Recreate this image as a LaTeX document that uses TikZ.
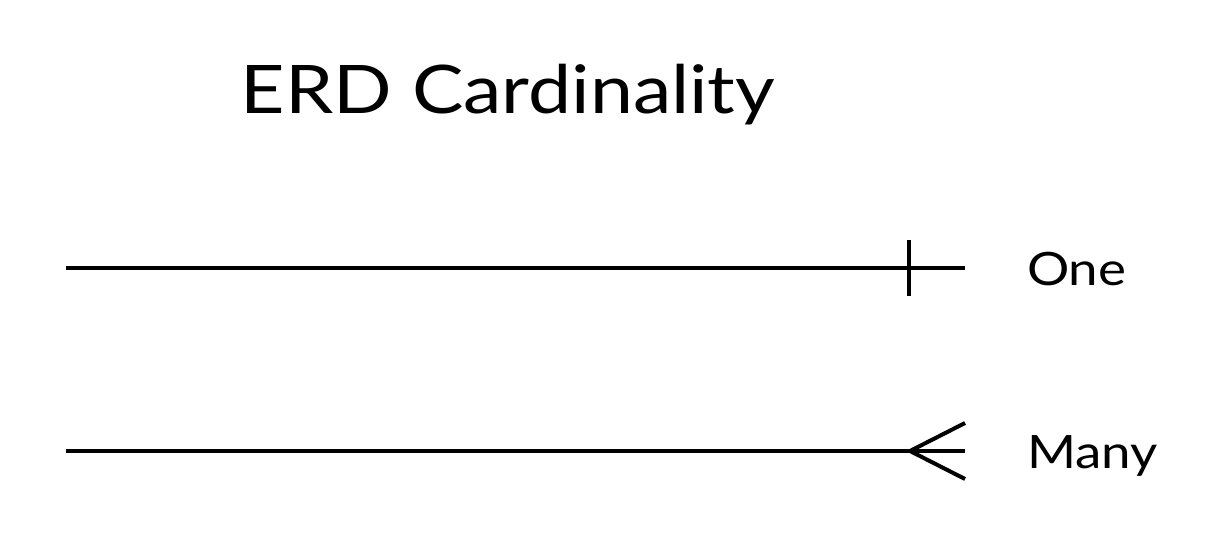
\documentclass[tikz,border=0pt]{standalone}
\usepackage{fontspec}
\setmainfont{Lato}[FakeStretch=1.15]
\usetikzlibrary{positioning}

\begin{document}
\begin{tikzpicture}[x=1pt,y=-1pt,line width=4pt]
\useasboundingbox (0,0) rectangle (1220,545);
\node[font=\fontsize{67}{70}\selectfont,anchor=base] (title) at (508,114) {ERD Cardinality};
% one
\coordinate (oneL) at (66,268);
\coordinate (oneR) at (965,268);
\coordinate (oneT) at (909,240);
\coordinate (oneB) at (909,296);
\draw (oneL)--(oneR);
\draw (oneT)--(oneB);
\node[font=\fontsize{46}{50}\selectfont,anchor=base west,inner sep=0pt] (one) at (1025,285) {One};
% many
\coordinate (manyL) at (66,451);
\coordinate (manyR) at (965,451);
\coordinate (manyA) at (910,451);
\coordinate (manyT) at (965,423);
\coordinate (manyB) at (965,479);
\draw (manyL)--(manyR);
\draw[line join=miter] (manyT)--(manyA)--(manyB);
\node[font=\fontsize{46}{50}\selectfont,anchor=base west,inner sep=0pt] (many) at (1025,468) {Many};
\end{tikzpicture}
\end{document}
